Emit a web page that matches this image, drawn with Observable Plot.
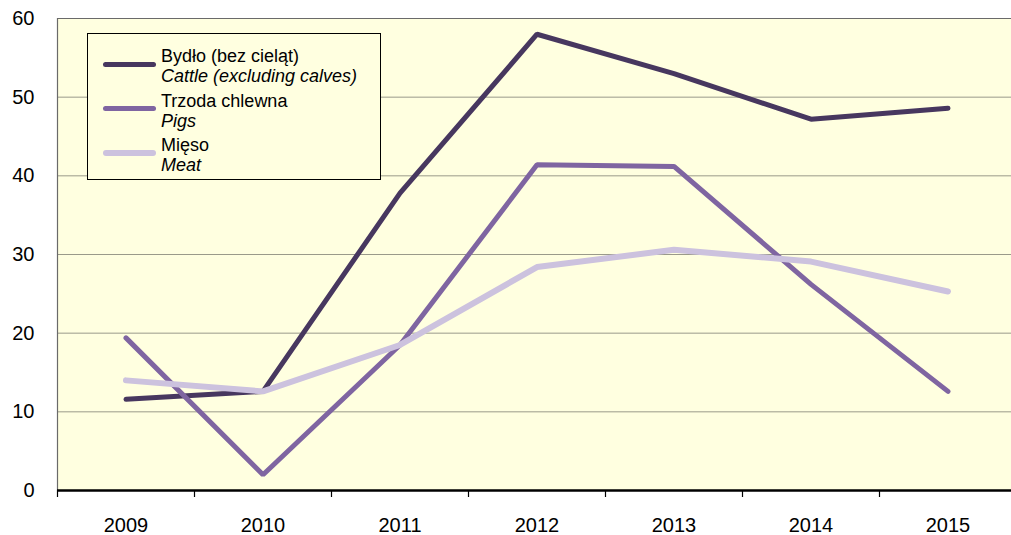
<!DOCTYPE html>
<html>
<head>
<meta charset="utf-8">
<script src="https://cdn.jsdelivr.net/npm/d3@7"></script>
<script src="https://cdn.jsdelivr.net/npm/@observablehq/plot@0.6"></script>
<style>
  html, body { margin: 0; padding: 0; background: #ffffff; }
  #wrap { position: relative; width: 1011px; height: 535px; font-family: "Liberation Sans", Arial, sans-serif; }
  #legend { position: absolute; left: 87px; top: 33px; width: 294px; height: 147px; border: 1px solid #000; background: #ffffe0; box-sizing: border-box; }
  .item { position: absolute; left: 0; width: 100%; }
  .sw { position: absolute; left: 15px; width: 53px; height: 5px; border-radius: 3px; }
  .lab { position: absolute; left: 73px; font-size: 18px; line-height: 20px; color: #000; white-space: nowrap; }
  .lab i { font-style: italic; }
</style>
</head>
<body>
<div id="wrap"><div id="chart"></div><div id="legend"></div></div>
<script>
const years = [2009, 2010, 2011, 2012, 2013, 2014, 2015];
const cattle = [11.6, 12.6, 37.8, 58.0, 53.0, 47.2, 48.6];
const pigs = [19.4, 2.0, 18.5, 41.4, 41.2, 26.2, 12.6];
const meat = [14.0, 12.6, 18.5, 28.4, 30.6, 29.1, 25.3];
const yTicks = [0, 10, 20, 30, 40, 50, 60];
const seriesPl = ["Bydło (bez cieląt)", "Trzoda chlewna", "Mięso"];
const seriesEn = ["Cattle (excluding calves)", "Pigs", "Meat"];
const seriesColors = ["#47375f", "#7f65a1", "#ccc2de"];
const seriesWidths = [5, 5, 6];
const seriesValues = [cattle, pigs, meat];

const data = seriesValues.flatMap((vals, s) => years.map((yr, i) => ({series: s, year: yr, value: vals[i]})));
const bounds = years.map(y => y - 0.5).concat([years[years.length - 1] + 0.5]);

const chart = Plot.plot({
  width: 1011,
  height: 535,
  marginLeft: 57,
  marginRight: -5,
  marginTop: 18,
  marginBottom: 45,
  style: {fontFamily: "Liberation Sans, Arial, sans-serif", background: "transparent", overflow: "hidden"},
  x: {type: "linear", domain: [bounds[0], bounds[bounds.length - 1]]},
  y: {domain: [0, 60]},
  marks: [
    Plot.frame({fill: "#ffffe0", stroke: null}),
    Plot.gridY(yTicks.filter(d => d > 0 && d < 60), {stroke: "#9a9a8a", strokeOpacity: 1, strokeWidth: 1}),
    Plot.ruleY([60], {stroke: "#6a6a6a", strokeWidth: 1.2}),
    Plot.ruleX([bounds[0]], {stroke: "#6a6a6a", strokeWidth: 1.2}),
    Plot.axisY(yTicks, {tickSize: 0, tickPadding: 23, fontSize: 20, fill: "#000", label: null}),
    Plot.axisX(bounds, {tickSize: 7, stroke: "#000", strokeWidth: 1.2, tickFormat: () => "", label: null}),
    Plot.axisX(years, {tickSize: 0, tickPadding: 27, fontSize: 20, fill: "#000", tickFormat: d => String(d), label: null}),
    Plot.ruleY([0], {stroke: "#000", strokeWidth: 2.5}),
    ...seriesValues.map((_, s) =>
      Plot.line(data.filter(d => d.series === s), {
        x: "year", y: "value",
        stroke: seriesColors[s], strokeWidth: seriesWidths[s],
        strokeLinecap: "round", strokeLinejoin: "miter"
      })
    )
  ]
});
document.getElementById("chart").appendChild(chart);

const legend = document.getElementById("legend");
seriesPl.forEach((name, s) => {
  const top = 10 + s * 44.5;
  const item = document.createElement("div");
  item.className = "item";
  item.style.top = top + "px";
  const sw = document.createElement("div");
  sw.className = "sw";
  sw.style.background = seriesColors[s];
  sw.style.top = (20 - seriesWidths[s] / 2) + "px";
  sw.style.height = seriesWidths[s] + "px";
  const lab = document.createElement("div");
  lab.className = "lab";
  lab.style.top = "2px";
  lab.innerHTML = name + "<br><i>" + seriesEn[s] + "</i>";
  item.appendChild(sw);
  item.appendChild(lab);
  legend.appendChild(item);
});
</script>
</body>
</html>
